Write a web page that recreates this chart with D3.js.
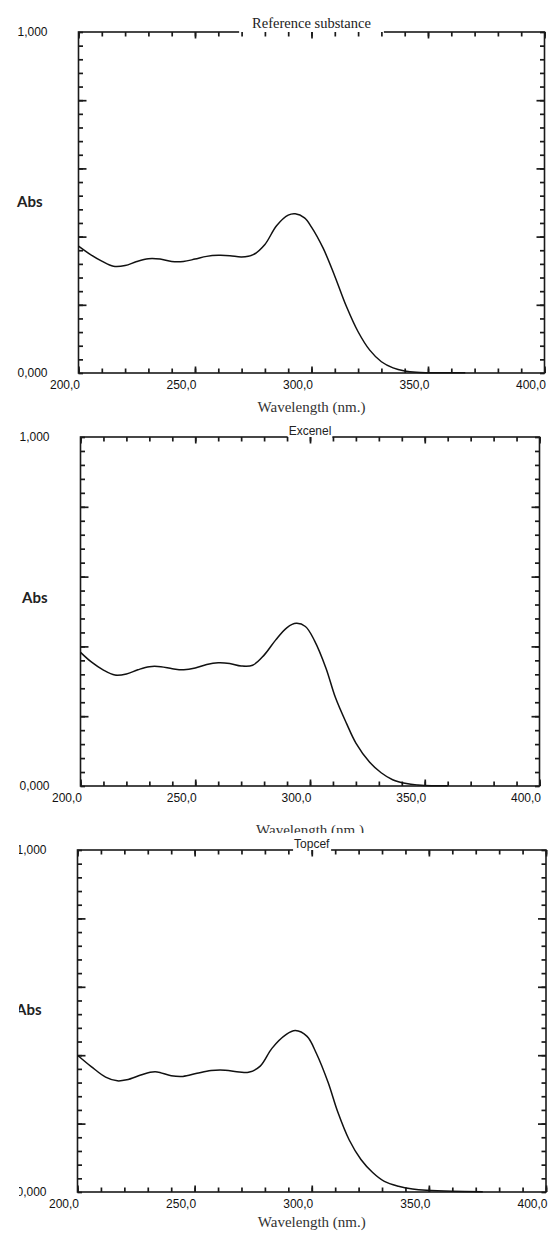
<!DOCTYPE html>
<html>
<head>
<meta charset="utf-8">
<script src="https://cdn.jsdelivr.net/npm/d3@7"></script>
<style>
  body { margin: 0; background: #fff; }
  svg { display: block; }
</style>
</head>
<body>
<svg id="chart" width="549" height="1240"></svg>
<script>
// spectra (nm / absorbance)
const refWavelength = [200, 205, 210, 215, 220, 225, 230, 235, 240, 245, 250, 255, 260, 265, 270, 275, 280, 285, 290, 293, 297, 300, 305, 310, 315, 320, 325, 330, 335, 340, 345, 350, 360, 366];
const refAbs = [0.372, 0.348, 0.328, 0.313, 0.315, 0.327, 0.335, 0.334, 0.327, 0.327, 0.334, 0.342, 0.345, 0.344, 0.340, 0.347, 0.377, 0.432, 0.463, 0.467, 0.455, 0.428, 0.366, 0.284, 0.195, 0.121, 0.067, 0.033, 0.015, 0.006, 0.002, 0.001, 0.001, 0.001];

const excWavelength = [200, 205, 210, 215, 220, 225, 230, 235, 240, 245, 250, 255, 260, 265, 270, 275, 280, 285, 290, 294, 298, 302, 307, 311, 316, 320, 326, 331, 336, 342, 347, 353, 360];
const excAbs = [0.383, 0.354, 0.332, 0.318, 0.321, 0.333, 0.342, 0.342, 0.336, 0.333, 0.338, 0.348, 0.353, 0.351, 0.344, 0.346, 0.375, 0.418, 0.454, 0.466, 0.457, 0.416, 0.337, 0.255, 0.178, 0.123, 0.068, 0.038, 0.018, 0.007, 0.003, 0.001, 0.001];

const topWavelength = [200, 206, 212, 217, 221, 227, 231, 234, 240, 245, 251, 257, 263, 269, 273, 278, 283, 289, 293, 298, 302, 307, 311, 316, 321, 326, 331, 337, 343, 349, 360, 373];
const topAbs = [0.40, 0.366, 0.336, 0.325, 0.328, 0.342, 0.350, 0.351, 0.340, 0.338, 0.347, 0.355, 0.356, 0.351, 0.350, 0.368, 0.42, 0.460, 0.472, 0.455, 0.405, 0.32, 0.236, 0.152, 0.095, 0.057, 0.031, 0.017, 0.009, 0.005, 0.002, 0.001];

const xTickValues = [200, 250, 300, 350, 400];
const xTickLabels = ["200,0", "250,0", "300,0", "350,0", "400,0"];
const yTickValues = [0, 1];
const yTickLabels = ["0,000", "1,000"];

const svg = d3.select("#chart");

const panels = [
  { title: "Reference substance", serifTitle: true, wl: refWavelength, abs: refAbs,
    x0: 78.5, x1: 544.5, y0: 32, y1: 373, xlabelY: 412, absX: 17, absY: 207, clip: null },
  { title: "Excenel", serifTitle: false, wl: excWavelength, abs: excAbs,
    x0: 80.5, x1: 539.5, y0: 437, y1: 786, xlabelY: 835, absX: 22, absY: 603, clip: [0, 380, 549, 453] },
  { title: "Topcef", serifTitle: false, wl: topWavelength, abs: topAbs,
    x0: 77.5, x1: 546, y0: 850, y1: 1192, xlabelY: 1227, absX: 16, absY: 1015, clip: [19, 836, 530, 404] }
];

panels.forEach((p, i) => {
  let g = svg.append("g");
  if (p.clip) {
    svg.append("clipPath").attr("id", "clip" + i)
      .append("rect").attr("x", p.clip[0]).attr("y", p.clip[1])
      .attr("width", p.clip[2]).attr("height", p.clip[3]);
    g.attr("clip-path", `url(#clip${i})`);
  }

  const x = d3.scaleLinear().domain([200, 400]).range([p.x0, p.x1]);
  const y = d3.scaleLinear().domain([0, 1]).range([p.y1, p.y0]);

  // frame
  g.append("rect")
    .attr("x", p.x0).attr("y", p.y0)
    .attr("width", p.x1 - p.x0).attr("height", p.y1 - p.y0)
    .attr("fill", "none").attr("stroke", "#1a1a1a").attr("stroke-width", 1.6);

  // title sitting on the top edge
  const title = g.append("text")
    .attr("x", (p.x0 + p.x1) / 2)
    .attr("y", p.serifTitle ? p.y0 - 4 : p.y0 - 2)
    .attr("text-anchor", "middle")
    .style("font-family", p.serifTitle ? "'Liberation Serif', serif" : "'Liberation Sans', Arial, sans-serif")
    .style("font-size", p.serifTitle ? "14.5px" : "12px")
    .attr("fill", "#222")
    .text(p.title);
  const bb = title.node().getBBox();
  const pad = p.serifTitle ? 13 : 1;
  g.insert("rect", "text")
    .attr("x", bb.x - pad).attr("y", p.y0 - 3)
    .attr("width", bb.width + pad * 2).attr("height", 5)
    .attr("fill", "#fff");

  const tickStyle = sel => {
    sel.select(".domain").remove();
    sel.selectAll("line").attr("stroke", "#1a1a1a").attr("stroke-width", 1.7);
  };

  // x ticks, bottom and top, pointing inward
  const xMinor = d3.range(200, 401, 10);
  g.append("g").attr("transform", `translate(0,${p.y1})`)
    .call(d3.axisBottom(x).tickValues(xMinor).tickSize(-4.5).tickFormat("")).call(tickStyle);
  g.append("g").attr("transform", `translate(0,${p.y0})`)
    .call(d3.axisTop(x).tickValues(xMinor).tickSize(-4.5).tickFormat("")).call(tickStyle);
  const xAx = g.append("g").attr("transform", `translate(0,${p.y1})`)
    .call(d3.axisBottom(x).tickValues(xTickValues).tickSize(-6.5)
      .tickFormat((d, k) => xTickLabels[k])).call(tickStyle);
  xAx.selectAll("text")
    .attr("text-anchor", "end").attr("x", 1).attr("y", 7)
    .style("font-family", "'Liberation Sans', Arial, sans-serif")
    .style("font-size", "12px").attr("fill", "#111");
  g.append("g").attr("transform", `translate(0,${p.y0})`)
    .call(d3.axisTop(x).tickValues(xTickValues).tickSize(-6.5).tickFormat("")).call(tickStyle);

  // y ticks, left and right
  const yMinor = d3.range(0, 1.0001, 0.04);
  const yMajor = [0.2, 0.4, 0.6, 0.8];
  g.append("g").attr("transform", `translate(${p.x0},0)`)
    .call(d3.axisLeft(y).tickValues(yMinor).tickSize(-4.5).tickFormat("")).call(tickStyle);
  g.append("g").attr("transform", `translate(${p.x0},0)`)
    .call(d3.axisLeft(y).tickValues(yMajor).tickSize(-8).tickFormat("")).call(tickStyle);
  g.append("g").attr("transform", `translate(${p.x1},0)`)
    .call(d3.axisRight(y).tickValues(yMinor).tickSize(-4.5).tickFormat("")).call(tickStyle);
  g.append("g").attr("transform", `translate(${p.x1},0)`)
    .call(d3.axisRight(y).tickValues(yMajor).tickSize(-8).tickFormat("")).call(tickStyle);

  // end labels of the absorbance axis
  const yAx = g.append("g").attr("transform", `translate(${p.x0 - 31},0)`)
    .call(d3.axisLeft(y).tickValues(yTickValues).tickSize(0)
      .tickFormat((d, k) => yTickLabels[k]));
  yAx.select(".domain").remove();
  yAx.selectAll("text")
    .attr("x", 0)
    .style("font-family", "'Liberation Sans', Arial, sans-serif")
    .style("font-size", "12px").attr("fill", "#111");

  g.append("text")
    .attr("x", p.absX).attr("y", p.absY)
    .style("font-family", "Lato, 'Open Sans', sans-serif")
    .style("font-weight", 700).style("font-size", "15px").attr("fill", "#222")
    .text("Abs");

  g.append("text")
    .attr("x", (p.x0 + p.x1) / 2).attr("y", p.xlabelY)
    .attr("text-anchor", "middle")
    .style("font-family", "'Liberation Serif', serif")
    .style("font-size", "15px").attr("fill", "#333")
    .text("Wavelength (nm.)");

  // spectrum
  const line = d3.line()
    .x((d, k) => x(p.wl[k]))
    .y(d => y(d))
    .curve(d3.curveCatmullRom.alpha(0.5));
  g.append("path")
    .attr("d", line(p.abs))
    .attr("fill", "none").attr("stroke", "#111").attr("stroke-width", 1.5);
});
</script>
</body>
</html>
